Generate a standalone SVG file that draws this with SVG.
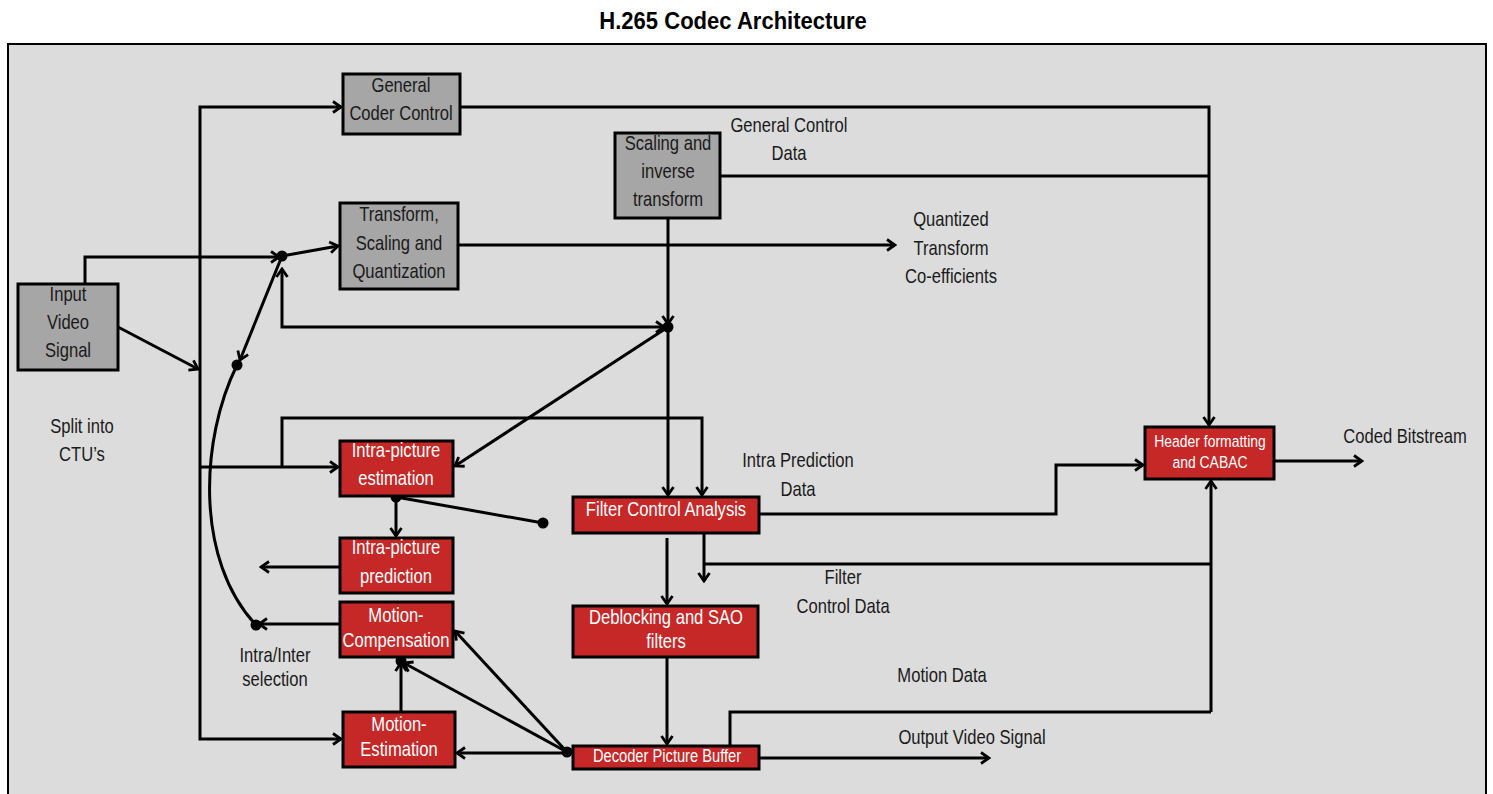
<svg xmlns="http://www.w3.org/2000/svg" width="1493" height="794" viewBox="0 0 1493 794">
<style>
text{font-family:"Liberation Sans",Arial,sans-serif;font-size:20px;text-anchor:middle;fill:#1a1a1a;transform-box:fill-box;transform-origin:center;transform:scaleX(0.83)}
.title{font-weight:bold;font-size:24.5px;fill:#000;transform:scaleX(0.9)}
.w{fill:#fff}
.gray{fill:#a6a6a6;stroke:#000;stroke-width:3}
.red{fill:#c62828;stroke:#000;stroke-width:3}
.c{fill:none;stroke:#000;stroke-width:3}
.dot{fill:#000}
</style>
<defs>
<marker id="a" markerUnits="userSpaceOnUse" markerWidth="14" markerHeight="14" viewBox="0 0 14 14" refX="12" refY="7" orient="auto-start-reverse">
<path d="M4,1.5 L12,7 L4,12.5" fill="none" stroke="#000" stroke-width="2.8"/>
</marker>
</defs>
<rect width="1493" height="794" fill="#fff"/>
<text class="title" x="733" y="29">H.265 Codec Architecture</text>
<rect x="8" y="44" width="1478" height="770" fill="#dcdcdc" stroke="#000" stroke-width="2"/>

<g id="connectors">
<path class="c" d="M341,107 H200 V739 H341" marker-start="url(#a)" marker-end="url(#a)"/>
<path class="c" d="M200,467 H338" marker-end="url(#a)"/>
<path class="c" d="M282,467 V418 H702 V495" marker-end="url(#a)"/>
<path class="c" d="M118,327 L198,369" marker-end="url(#a)"/>
<path class="c" d="M85,284 V257 H279" marker-end="url(#a)"/>
<path class="c" d="M282,256 L338,246" marker-end="url(#a)"/>
<path class="c" d="M282,256 L240,360" marker-end="url(#a)"/>
<path class="c" d="M237,365 C200,440 195,560 256,625"/>
<path class="c" d="M282,269 V327 H664" marker-start="url(#a)" marker-end="url(#a)"/>
<path class="c" d="M668,218 V324" marker-end="url(#a)"/>
<path class="c" d="M668,327 V495" marker-end="url(#a)"/>
<path class="c" d="M668,327 L455,466" marker-end="url(#a)"/>
<path class="c" d="M396,497 V536" marker-end="url(#a)"/>
<path class="c" d="M396,497 L543,523"/>
<path class="c" d="M340,567 H261" marker-end="url(#a)"/>
<path class="c" d="M340,624 H259" marker-end="url(#a)"/>
<path class="c" d="M401,712 V663" marker-end="url(#a)"/>
<path class="c" d="M567,752 L404,663" marker-end="url(#a)"/>
<path class="c" d="M567,752 L455,631" marker-end="url(#a)"/>
<path class="c" d="M567,753 H457" marker-end="url(#a)"/>
<path class="c" d="M667,538 V604" marker-end="url(#a)"/>
<path class="c" d="M704,533 V581" marker-end="url(#a)"/>
<path class="c" d="M704,564 H1211"/>
<path class="c" d="M759,514 H1056 V465 H1143" marker-end="url(#a)"/>
<path class="c" d="M460,107 H1209 V425" marker-end="url(#a)"/>
<path class="c" d="M720,176 H1209"/>
<path class="c" d="M458,245 H895" marker-end="url(#a)"/>
<path class="c" d="M1211,712 V481" marker-end="url(#a)"/>
<path class="c" d="M730,746 V712 H1211"/>
<path class="c" d="M667,657 V744" marker-end="url(#a)"/>
<path class="c" d="M759,758 H989" marker-end="url(#a)"/>
<path class="c" d="M1274,461 H1362" marker-end="url(#a)"/>
<circle class="dot" cx="282" cy="256" r="5.5"/>
<circle class="dot" cx="237" cy="365" r="5.5"/>
<circle class="dot" cx="668" cy="327" r="5.5"/>
<circle class="dot" cx="396" cy="497" r="5.5"/>
<circle class="dot" cx="543" cy="523" r="5.5"/>
<circle class="dot" cx="256" cy="625" r="5.5"/>
<circle class="dot" cx="401" cy="661" r="5.5"/>
<circle class="dot" cx="567" cy="752" r="5.5"/>
</g>

<g id="input">
<rect class="gray" x="18" y="284" width="100" height="86"/>
<text x="68" y="301">Input</text><text x="68" y="329">Video</text><text x="68" y="357">Signal</text>
</g>
<g id="general-coder-control">
<rect class="gray" x="343" y="74" width="117" height="60"/>
<text x="401" y="92">General</text><text x="401" y="120">Coder Control</text>
</g>
<g id="transform">
<rect class="gray" x="340" y="203" width="118" height="86"/>
<text x="399" y="221">Transform,</text><text x="399" y="250">Scaling and</text><text x="399" y="278">Quantization</text>
</g>
<g id="scaling-inverse">
<rect class="gray" x="615" y="133" width="105" height="85"/>
<text x="668" y="150">Scaling and</text><text x="668" y="178">inverse</text><text x="668" y="206">transform</text>
</g>
<g id="intra-estimation">
<rect class="red" x="340" y="441" width="113" height="55"/>
<text class="w" x="396" y="457">Intra-picture</text><text class="w" x="396" y="485">estimation</text>
</g>
<g id="intra-prediction">
<rect class="red" x="340" y="538" width="113" height="55"/>
<text class="w" x="396" y="554">Intra-picture</text><text class="w" x="396" y="583">prediction</text>
</g>
<g id="motion-compensation">
<rect class="red" x="340" y="602" width="113" height="55"/>
<text class="w" x="396" y="622">Motion-</text><text class="w" x="396" y="647">Compensation</text>
</g>
<g id="motion-estimation">
<rect class="red" x="343" y="712" width="112" height="55"/>
<text class="w" x="399" y="731">Motion-</text><text class="w" x="399" y="756">Estimation</text>
</g>
<g id="filter-control">
<rect class="red" x="573" y="497" width="186" height="36"/>
<text class="w" x="666" y="516">Filter Control Analysis</text>
</g>
<g id="deblocking">
<rect class="red" x="573" y="606" width="185" height="51"/>
<text class="w" x="666" y="624">Deblocking and SAO</text><text class="w" x="666" y="648">filters</text>
</g>
<g id="dpb">
<rect class="red" x="573" y="746" width="186" height="23"/>
<text class="w" x="667" y="762" style="font-size:17.7px">Decoder Picture Buffer</text>
</g>
<g id="header-cabac">
<rect class="red" x="1145" y="427" width="129" height="52"/>
<text class="w" x="1210" y="447" style="font-size:16.8px">Header formatting</text><text class="w" x="1210" y="468" style="font-size:16.8px">and CABAC</text>
</g>

<g id="labels">
<text x="789" y="132">General Control</text><text x="789" y="160">Data</text>
<text x="951" y="226">Quantized</text><text x="951" y="255">Transform</text><text x="951" y="283">Co-efficients</text>
<text x="82" y="433">Split into</text><text x="82" y="461">CTU’s</text>
<text x="798" y="467">Intra Prediction</text><text x="798" y="496">Data</text>
<text x="843" y="584">Filter</text><text x="843" y="613">Control Data</text>
<text x="942" y="682">Motion Data</text>
<text x="972" y="744">Output Video Signal</text>
<text x="1405" y="443">Coded Bitstream</text>
<text x="275" y="662">Intra/Inter</text><text x="275" y="686">selection</text>
</g>
</svg>
